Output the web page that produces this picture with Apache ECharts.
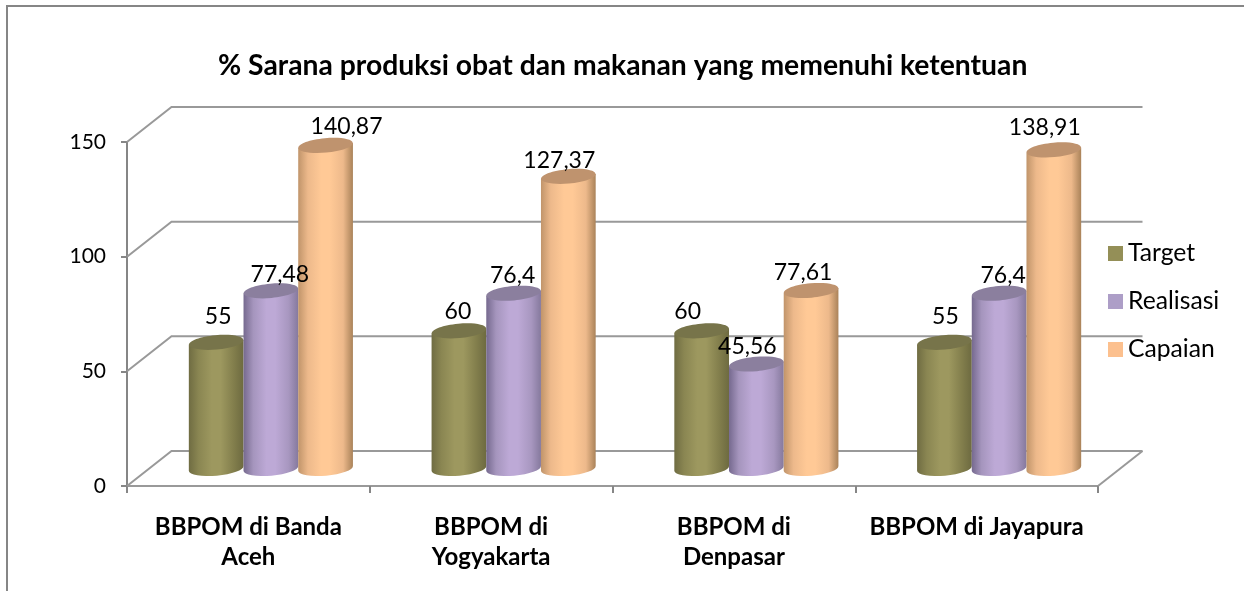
<!DOCTYPE html>
<html><head><meta charset="utf-8">
<style>html,body{margin:0;padding:0;background:#fff}#c{width:1244px;height:591px}</style>
<script src="https://cdn.jsdelivr.net/npm/echarts@6/dist/echarts.min.js"></script>
</head><body><div id="c"></div>
<script>
const titleText = '% Sarana produksi obat dan makanan yang memenuhi ketentuan';
const categories = ['BBPOM di Banda\nAceh', 'BBPOM di\nYogyakarta', 'BBPOM di\nDenpasar', 'BBPOM di Jayapura'];
const target = [55, 60, 60, 55];
const realisasi = [77.48, 76.4, 45.56, 76.4];
const capaian = [140.87, 127.37, 77.61, 138.91];
const yTicks = [0, 50, 100, 150];
const FONT = 'Lato, "Open Sans", sans-serif';
const DEPTH_X = 44.5, DEPTH_Y = 35;
const BAR_W = 54.7, BASE_LIFT = 17.5, CENTER_SHIFT = 22.5;
const RY = 7.2, TILT = -0.09;

const looks = [
  {name:'Target', legend:'#948F57', top:'#77744A', stops:['#6F6C42','#8A8652','#9D985F','#9D985F','#827E4C','#6D6A40']},
  {name:'Realisasi', legend:'#AD9EC7', top:'#8B7F9E', stops:['#75698E','#A595BD','#BDA9D6','#BDA9D6','#A897C0','#85799D']},
  {name:'Capaian', legend:'#FCC08E', top:'#BF936E', stops:['#C0946A','#EDB98B','#FFC996','#FFC996','#EDB98B','#A98259']}
];
// label nudges relative to the top of each cylinder [dx, dy], per series then category
const labelNudge = [
  [[2,-26],[-1,-19],[-14,-19],[1,-26]],
  [[9,-16],[-1,-18],[-9,-17],[4,-18]],
  [[21,-19],[-9,-16],[-8,-18],[-9,-22]]
];
const fmt = v => String(v).replace('.', ',');

function geometry(idx, api) {
  const c = api.value(0), v = api.value(1);
  const base = api.coord([c, 0]), head = api.coord([c, v]);
  return {c, v, cx: base[0] + CENTER_SHIFT + (idx - 1) * BAR_W, by: base[1] - BASE_LIFT, ty: head[1] - BASE_LIFT};
}

function cylinder(idx) {
  const look = looks[idx];
  return function (params, api) {
    const {cx, by, ty} = geometry(idx, api);
    const rx = BAR_W / 2, sk = rx * TILT;
    const L = cx - rx, R = cx + rx;
    const deg = TILT * 180 / Math.PI;
    const body = `M${L} ${ty - sk}L${L} ${by - sk}A${rx} ${RY} ${deg} 0 0 ${R} ${by + sk}L${R} ${ty + sk}Z`;
    const stops = look.stops.map((s, i) => ({offset: [0, .18, .42, .58, .82, 1][i], color: s}));
    return {
      type: 'group',
      children: [
        {type:'path', shape:{pathData: body},
          style:{fill:{type:'linear',x:0,y:0,x2:1,y2:0,colorStops:stops}}},
        {type:'ellipse', shape:{cx:cx, cy:ty, rx:rx, ry:RY}, rotation:-TILT, originX:cx, originY:ty, style:{fill:look.top}}
      ]
    };
  };
}

function valueLabel(idx) {
  return function (params, api) {
    const {c, v, cx, ty} = geometry(idx, api);
    const n = labelNudge[idx][c];
    return {type:'text', style:{x:cx+n[0], y:ty+n[1], text:fmt(v), fill:'#000', font:'23px '+FONT, align:'center', verticalAlign:'middle'}};
  };
}

function walls(params, api) {
  const g = params.coordSys, y = api.coord([0, api.value(0)])[1];
  const lines = [
    {type:'polyline', shape:{points:[[g.x,y],[g.x+DEPTH_X,y-DEPTH_Y],[g.x+g.width+DEPTH_X,y-DEPTH_Y]]},
     style:{stroke:'#999999', lineWidth:2, fill:null}}
  ];
  if (api.value(0) === 0) lines.push({type:'line', shape:{x1:g.x+g.width,y1:y,x2:g.x+g.width+DEPTH_X,y2:y-DEPTH_Y}, style:{stroke:'#999999', lineWidth:2}});
  return {type:'group', children:lines};
}

const seriesValues = [target, realisasi, capaian];
const chart = echarts.init(document.getElementById('c'), null, {renderer:'canvas'});
chart.setOption({
  animation:false,
  title:{text:titleText, left:218, top:52, padding:0, textStyle:{fontFamily:FONT, fontSize:28.3, fontWeight:'bold', color:'#000'}},
  grid:{left:127, right:146, top:142, bottom:105},
  legend:{orient:'vertical', left:1108, top:241, padding:0, itemWidth:15, itemHeight:15, itemGap:23,
    icon:'rect', textStyle:{fontFamily:FONT, fontSize:24.7, color:'#000'},
    data:looks.map(l=>l.name)},
  xAxis:{type:'category', data:categories, axisTick:{show:true, alignWithLabel:false, length:7, lineStyle:{color:'#868686', width:2}},
    axisLine:{lineStyle:{color:'#999999', width:2}},
    axisLabel:{fontFamily:FONT, fontSize:24, fontWeight:'bold', color:'#000', lineHeight:30, margin:26, interval:0}},
  yAxis:{type:'value', min:0, max:150, interval:50, splitLine:{show:false},
    axisLine:{show:true, lineStyle:{color:'#868686', width:2}},
    axisTick:{show:true, length:6, lineStyle:{color:'#868686', width:2}},
    axisLabel:{fontFamily:FONT, fontSize:21, color:'#000', margin:21}},
  series:[
    {type:'custom', name:'walls', z:1, silent:true, data:yTicks.map(v=>[v]), encode:{y:0}, renderItem:walls, tooltip:{show:false}}
  ].concat(looks.map((l,i)=>({
    type:'custom', name:l.name, z:2+i, itemStyle:{color:l.legend},
    data:seriesValues[i].map((v,k)=>[k,v]), encode:{x:0,y:1}, renderItem:cylinder(i)
  }))).concat(looks.map((l,i)=>({
    type:'custom', name:l.name+' labels', z:10, silent:true,
    data:seriesValues[i].map((v,k)=>[k,v]), encode:{x:0,y:1}, renderItem:valueLabel(i)
  }))),
  graphic:[{type:'polyline', silent:true, shape:{points:[[7,591],[7,6],[1244,6]]}, style:{stroke:'#868686', lineWidth:2, fill:null}}]
});
</script></body></html>
